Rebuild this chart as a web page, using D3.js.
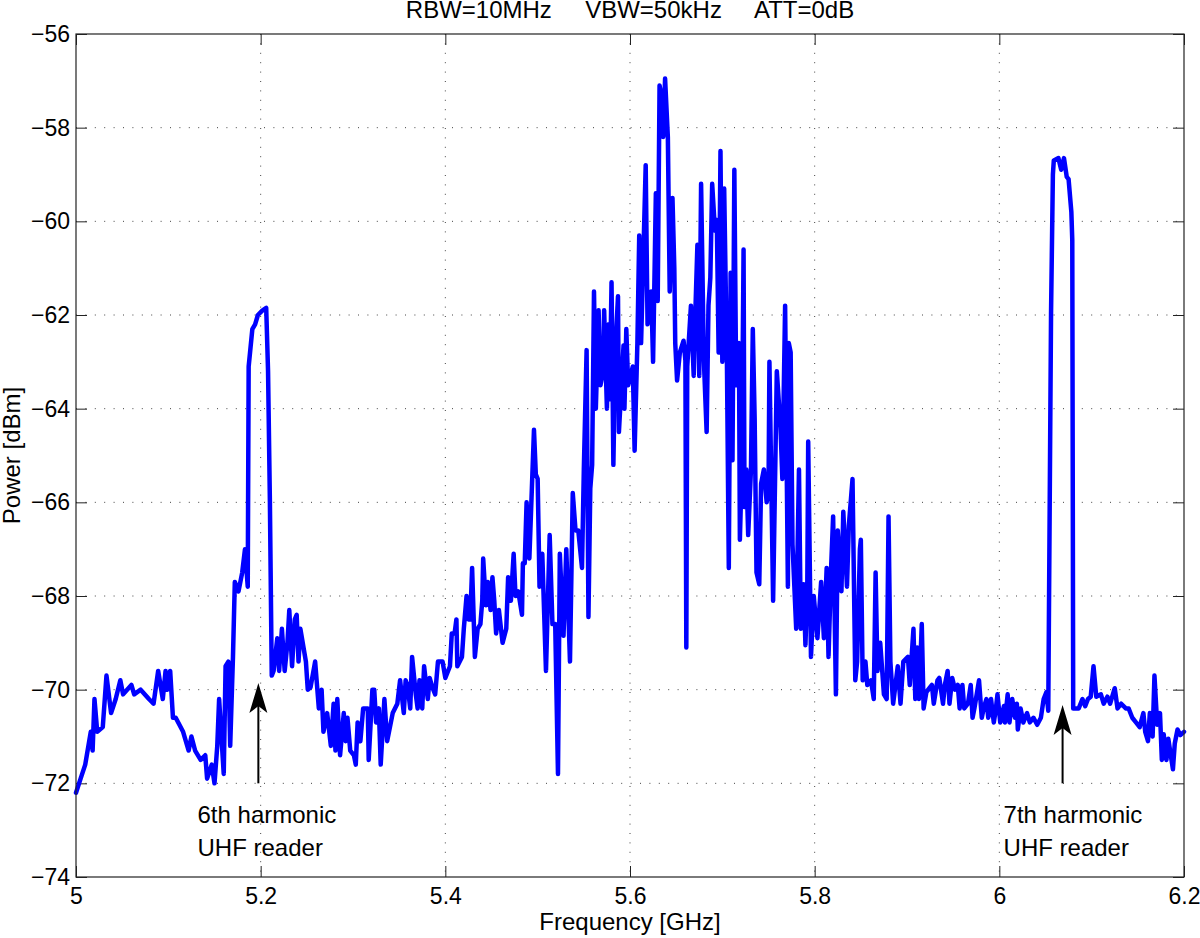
<!DOCTYPE html>
<html>
<head>
<meta charset="utf-8">
<script src="https://cdn.jsdelivr.net/npm/d3@7"></script>
<style>
  body { margin: 0; background: white; }
  svg text { font-family: "Liberation Sans", Arial, Helvetica, sans-serif; fill: black; }
</style>
</head>
<body>
<div id="vis"></div>
<script>
// spectrum trace
const freqGHz = [
  5.000, 5.005, 5.010, 5.016, 5.018, 5.020, 5.023, 5.029, 5.033, 5.038, 5.043, 5.048, 5.051, 5.060, 5.063, 5.070,
  5.079, 5.084, 5.089, 5.094, 5.097, 5.099, 5.102, 5.105, 5.108, 5.116, 5.122, 5.125, 5.129, 5.135, 5.140, 5.142,
  5.147, 5.150, 5.153, 5.155, 5.160, 5.162, 5.165, 5.167, 5.170, 5.172, 5.176, 5.180, 5.183, 5.186, 5.187, 5.191,
  5.194, 5.197, 5.202, 5.206, 5.208, 5.210, 5.212, 5.214, 5.218, 5.220, 5.223, 5.226, 5.229, 5.231, 5.234, 5.237,
  5.239, 5.241, 5.243, 5.249, 5.251, 5.254, 5.259, 5.263, 5.266, 5.268, 5.272, 5.276, 5.279, 5.281, 5.283, 5.286,
  5.290, 5.292, 5.294, 5.297, 5.301, 5.303, 5.305, 5.308, 5.311, 5.316, 5.317, 5.321, 5.323, 5.325, 5.328, 5.330,
  5.334, 5.337, 5.343, 5.348, 5.351, 5.355, 5.357, 5.359, 5.362, 5.364, 5.368, 5.370, 5.372, 5.375, 5.377, 5.381,
  5.383, 5.386, 5.389, 5.392, 5.397, 5.400, 5.405, 5.407, 5.410, 5.412, 5.413, 5.418, 5.420, 5.423, 5.425, 5.427,
  5.429, 5.432, 5.435, 5.438, 5.440, 5.441, 5.444, 5.446, 5.449, 5.451, 5.453, 5.455, 5.458, 5.462, 5.466, 5.468,
  5.471, 5.474, 5.476, 5.479, 5.483, 5.484, 5.486, 5.488, 5.491, 5.496, 5.498, 5.500, 5.502, 5.505, 5.509, 5.513,
  5.516, 5.519, 5.522, 5.524, 5.528, 5.531, 5.535, 5.538, 5.541, 5.544, 5.548, 5.550, 5.553, 5.555, 5.557, 5.559,
  5.561, 5.563, 5.566, 5.568, 5.571, 5.572, 5.575, 5.577, 5.578, 5.580, 5.582, 5.584, 5.587, 5.588, 5.591, 5.593,
  5.594, 5.596, 5.598, 5.603, 5.605, 5.608, 5.610, 5.612, 5.617, 5.619, 5.623, 5.625, 5.628, 5.630, 5.632, 5.635,
  5.636, 5.638, 5.641, 5.643, 5.646, 5.648, 5.649, 5.651, 5.654, 5.658, 5.660, 5.661, 5.662, 5.666, 5.669, 5.671,
  5.673, 5.675, 5.677, 5.680, 5.683, 5.685, 5.687, 5.689, 5.692, 5.694, 5.696, 5.698, 5.700, 5.702, 5.705, 5.707,
  5.709, 5.711, 5.713, 5.715, 5.718, 5.719, 5.721, 5.723, 5.724, 5.726, 5.728, 5.731, 5.733, 5.735, 5.737, 5.740,
  5.742, 5.745, 5.748, 5.750, 5.751, 5.755, 5.759, 5.763, 5.765, 5.768, 5.771, 5.772, 5.774, 5.776, 5.780, 5.783,
  5.785, 5.788, 5.790, 5.792, 5.793, 5.796, 5.799, 5.803, 5.807, 5.810, 5.813, 5.815, 5.818, 5.820, 5.823, 5.825,
  5.827, 5.829, 5.831, 5.835, 5.837, 5.839, 5.841, 5.844, 5.846, 5.849, 5.850, 5.852, 5.855, 5.857, 5.861, 5.864,
  5.866, 5.868, 5.871, 5.875, 5.878, 5.880, 5.882, 5.885, 5.890, 5.893, 5.896, 5.901, 5.903, 5.907, 5.909, 5.911,
  5.913, 5.916, 5.918, 5.921, 5.927, 5.929, 5.933, 5.935, 5.939, 5.941, 5.944, 5.946, 5.949, 5.952, 5.955, 5.957,
  5.960, 5.962, 5.966, 5.969, 5.971, 5.973, 5.978, 5.981, 5.983, 5.986, 5.988, 5.991, 5.994, 5.996, 5.998, 6.001,
  6.005, 6.006, 6.009, 6.011, 6.014, 6.017, 6.019, 6.020, 6.023, 6.026, 6.030, 6.033, 6.037, 6.041, 6.045, 6.048,
  6.051, 6.053, 6.056, 6.058, 6.059, 6.064, 6.067, 6.070, 6.073, 6.075, 6.078, 6.079, 6.080, 6.086, 6.090, 6.093,
  6.096, 6.099, 6.102, 6.105, 6.110, 6.113, 6.117, 6.120, 6.125, 6.128, 6.132, 6.137, 6.140, 6.144, 6.148, 6.152,
  6.156, 6.158, 6.161, 6.163, 6.166, 6.168, 6.171, 6.174, 6.176, 6.178, 6.181, 6.183, 6.188, 6.190, 6.193, 6.196,
  6.200
];

const powerDbm = [
  -72.2, -71.9, -71.6, -70.9, -71.3, -70.2, -70.9, -70.8, -69.7, -70.5, -70.2, -69.8, -70.1, -69.9, -70.1, -70.0,
  -70.2, -70.3, -69.6, -70.2, -69.6, -70.0, -69.6, -70.6, -70.6, -70.9, -71.3, -71.0, -71.3, -71.5, -71.4, -71.9,
  -71.6, -72.0, -71.2, -70.2, -71.8, -69.5, -69.4, -71.2, -69.3, -67.7, -67.9, -67.5, -67.0, -67.8, -63.1, -62.3,
  -62.2, -62.0, -61.9, -61.85, -63.2, -66.0, -69.7, -69.6, -68.9, -69.6, -68.7, -69.6, -69.0, -68.3, -69.5, -68.5,
  -68.4, -69.4, -68.7, -69.4, -70.0, -69.95, -69.4, -70.4, -70.0, -70.9, -70.5, -71.2, -70.3, -71.3, -70.2, -71.4,
  -70.5, -71.1, -70.6, -71.3, -71.4, -71.6, -70.7, -71.1, -70.4, -70.4, -71.5, -70.0, -70.0, -70.7, -70.4, -71.6,
  -70.2, -71.1, -70.5, -70.3, -69.8, -70.5, -69.8, -69.9, -70.4, -69.3, -70.1, -70.4, -69.8, -70.4, -69.5, -70.2,
  -69.75, -69.95, -70.1, -69.4, -69.4, -69.75, -69.5, -68.8, -68.8, -68.5, -69.5, -69.3, -68.7, -68.0, -68.5, -68.5,
  -67.4, -69.3, -68.7, -68.6, -68.1, -67.2, -68.2, -67.7, -68.3, -67.6, -68.1, -68.8, -68.3, -69.0, -68.7, -67.6,
  -68.1, -67.1, -68.0, -67.9, -68.4, -67.3, -67.3, -66.0, -67.2, -64.45, -65.4, -65.5, -67.8, -67.1, -69.6, -66.7,
  -68.6, -68.6, -71.8, -67.1, -68.85, -67.0, -69.4, -65.8, -66.6, -66.6, -67.4, -65.3, -62.75, -68.45, -65.7, -65.2,
  -61.5, -64.0, -61.9, -63.5, -63.2, -61.9, -64.0, -62.2, -63.8, -61.3, -65.2, -62.8, -61.6, -64.5, -63.4, -62.65,
  -64.0, -62.3, -63.5, -63.1, -64.9, -62.6, -60.3, -62.6, -58.8, -62.2, -61.5, -63.0, -59.4, -61.7, -57.1, -57.4,
  -58.2, -56.95, -58.2, -61.5, -59.5, -61.0, -62.6, -63.4, -62.8, -62.55, -62.97, -69.1, -63.1, -61.8, -63.3, -61.8,
  -60.5, -63.3, -59.2, -62.97, -64.5, -61.8, -61.2, -59.2, -60.2, -59.97, -62.8, -58.5, -63.0, -59.3, -63.05, -67.4,
  -61.1, -65.1, -58.9, -63.5, -62.6, -66.8, -65.3, -60.6, -66.1, -65.3, -66.7, -65.3, -62.3, -64.2, -67.5, -67.75,
  -65.6, -65.3, -66.0, -65.8, -63.0, -68.1, -63.2, -64.4, -65.5, -61.8, -67.8, -62.6, -62.8, -66.9, -68.7, -65.3,
  -68.7, -67.75, -69.05, -67.8, -64.7, -69.3, -68.0, -68.9, -67.7, -68.9, -67.4, -69.3, -67.3, -66.3, -70.1, -66.6,
  -67.2, -67.9, -66.2, -67.8, -66.5, -66.0, -65.5, -69.8, -69.4, -67.0, -66.8, -69.8, -69.4, -69.9, -69.8, -70.2,
  -67.5, -69.6, -69.0, -70.1, -70.2, -66.3, -69.4, -70.3, -69.5, -70.3, -69.4, -69.3, -69.9, -68.7, -70.2, -69.1,
  -70.2, -68.6, -70.4, -70.05, -69.9, -70.3, -69.8, -69.75, -70.3, -69.9, -69.6, -70.3, -69.75, -70.0, -69.9, -70.4,
  -69.9, -70.4, -70.3, -69.9, -70.6, -70.4, -69.8, -70.6, -70.4, -70.2, -70.6, -70.2, -70.7, -70.45, -70.1, -70.7,
  -70.35, -70.7, -70.1, -70.7, -70.2, -70.6, -70.3, -70.85, -70.4, -70.7, -70.5, -70.7, -70.6, -70.75, -70.6, -70.2,
  -70.05, -70.45, -61.97, -59.0, -58.7, -58.65, -58.9, -58.65, -59.05, -59.1, -59.8, -60.4, -70.4, -70.4, -70.2, -70.35,
  -70.2, -70.15, -69.5, -70.15, -70.1, -70.3, -70.15, -70.3, -69.97, -70.4, -70.3, -70.4, -70.4, -70.6, -70.7, -70.8,
  -70.5, -70.9, -71.1, -70.5, -71.0, -69.7, -70.75, -70.5, -71.5, -70.95, -71.5, -71.05, -71.7, -71.15, -70.85, -70.97,
  -70.9
];

const xTicks = [5, 5.2, 5.4, 5.6, 5.8, 6, 6.2];
const xTickLabels = ["5", "5.2", "5.4", "5.6", "5.8", "6", "6.2"];
const yTicks = [-74, -72, -70, -68, -66, -64, -62, -60, -58, -56];

const titleText = "RBW=10MHz     VBW=50kHz     ATT=0dB";

// arrow annotations: x, tail power, tip power, label lines, label x
const notes = [
  { f: 5.1975, from: -72, to: -69.86, lines: ["6th harmonic", "UHF reader"], tx: 5.1316 },
  { f: 6.0685, from: -72, to: -70.33, lines: ["7th harmonic", "UHF reader"], tx: 6.0046 }
];

let margin = { top: 34, left: 76, right: 16, bottom: 61 },
  width = 1200 - margin.left - margin.right,
  height = 938 - margin.top - margin.bottom;

let svg = d3.select('#vis')
  .append('svg')
  .attr('width', 1200)
  .attr('height', 938)
  .style('display', 'block');

let g = svg.append('g').attr('transform', `translate(${margin.left},${margin.top})`);

let x = d3.scaleLinear().domain([5, 6.2]).range([0, width]);
let y = d3.scaleLinear().domain([-74, -56]).range([height, 0]);

// dotted grid
g.append('g').selectAll('line')
  .data(xTicks.slice(1, -1))
  .join('line')
  .attr('x1', d => x(d)).attr('x2', d => x(d))
  .attr('y1', 0).attr('y2', height)
  .attr('stroke', '#444').attr('stroke-width', 1)
  .attr('stroke-dasharray', '1,8.4');

g.append('g').selectAll('line')
  .data(yTicks.slice(1, -1))
  .join('line')
  .attr('x1', 0).attr('x2', width)
  .attr('y1', d => y(d)).attr('y2', d => y(d))
  .attr('stroke', '#444').attr('stroke-width', 1)
  .attr('stroke-dasharray', '1,8.4');

// axes, ticks pointing inward like the matlab box
const fontSize = 23;
let xAxis = g.append('g')
  .attr('transform', `translate(0,${height})`)
  .call(d3.axisBottom(x).tickValues(xTicks).tickFormat((d, i) => xTickLabels[i])
    .tickSizeInner(-11).tickSizeOuter(0).tickPadding(10));
let yAxis = g.append('g')
  .call(d3.axisLeft(y).tickValues(yTicks).tickSizeInner(-11).tickSizeOuter(0).tickPadding(6));
g.append('g')
  .call(d3.axisTop(x).tickValues(xTicks).tickFormat('').tickSizeInner(-11).tickSizeOuter(0));
g.append('g')
  .attr('transform', `translate(${width},0)`)
  .call(d3.axisRight(y).tickValues(yTicks).tickFormat('').tickSizeInner(-11).tickSizeOuter(0));

g.selectAll('.domain').remove();
g.selectAll('.tick line').attr('stroke', '#222');
g.selectAll('.tick text')
  .style('font-size', fontSize + 'px')
  .style('font-family', '"Liberation Sans", Arial, sans-serif')
  .attr('fill', 'black');
xAxis.selectAll('.tick text').attr('dy', '0.72em');

// spectrum line
let line = d3.line()
  .x((d, i) => x(freqGHz[i]))
  .y(d => y(d));

g.append('path')
  .datum(powerDbm)
  .attr('d', line)
  .attr('fill', 'none')
  .attr('stroke', '#0000ff')
  .attr('stroke-width', 4.5)
  .attr('stroke-linejoin', 'round')
  .attr('stroke-linecap', 'round');

// frame
g.append('rect')
  .attr('x', 0).attr('y', 0)
  .attr('width', width).attr('height', height)
  .attr('fill', 'none')
  .attr('stroke', '#222')
  .attr('stroke-width', 1.2);

// annotations
notes.forEach(n => {
  let ax = x(n.f), y0 = y(n.from), y1 = y(n.to);
  g.append('line')
    .attr('x1', ax).attr('x2', ax)
    .attr('y1', y0).attr('y2', y1 + 20)
    .attr('stroke', 'black').attr('stroke-width', 2);
  g.append('path')
    .attr('d', `M${ax},${y1} L${ax - 9},${y1 + 30} L${ax},${y1 + 23} L${ax + 9},${y1 + 30} Z`)
    .attr('fill', 'black');
  let t = g.append('text')
    .attr('x', x(n.tx))
    .attr('y', y(-72.85))
    .style('font-size', '24px');
  t.append('tspan').attr('x', x(n.tx)).text(n.lines[0]);
  t.append('tspan').attr('x', x(n.tx)).attr('dy', 33).text(n.lines[1]);
});

// title, centred over the axes
svg.append('text')
  .attr('x', margin.left + width / 2)
  .attr('y', 18)
  .attr('text-anchor', 'middle')
  .attr('xml:space', 'preserve')
  .style('white-space', 'pre')
  .style('font-size', '24px')
  .text(titleText);

// axis labels
svg.append('text')
  .attr('x', margin.left + width / 2)
  .attr('y', 930)
  .attr('text-anchor', 'middle')
  .style('font-size', '24px')
  .text('Frequency [GHz]');

svg.append('text')
  .attr('transform', `translate(20,${margin.top + height / 2}) rotate(-90)`)
  .attr('text-anchor', 'middle')
  .style('font-size', '24px')
  .text('Power [dBm]');
</script>
</body>
</html>
